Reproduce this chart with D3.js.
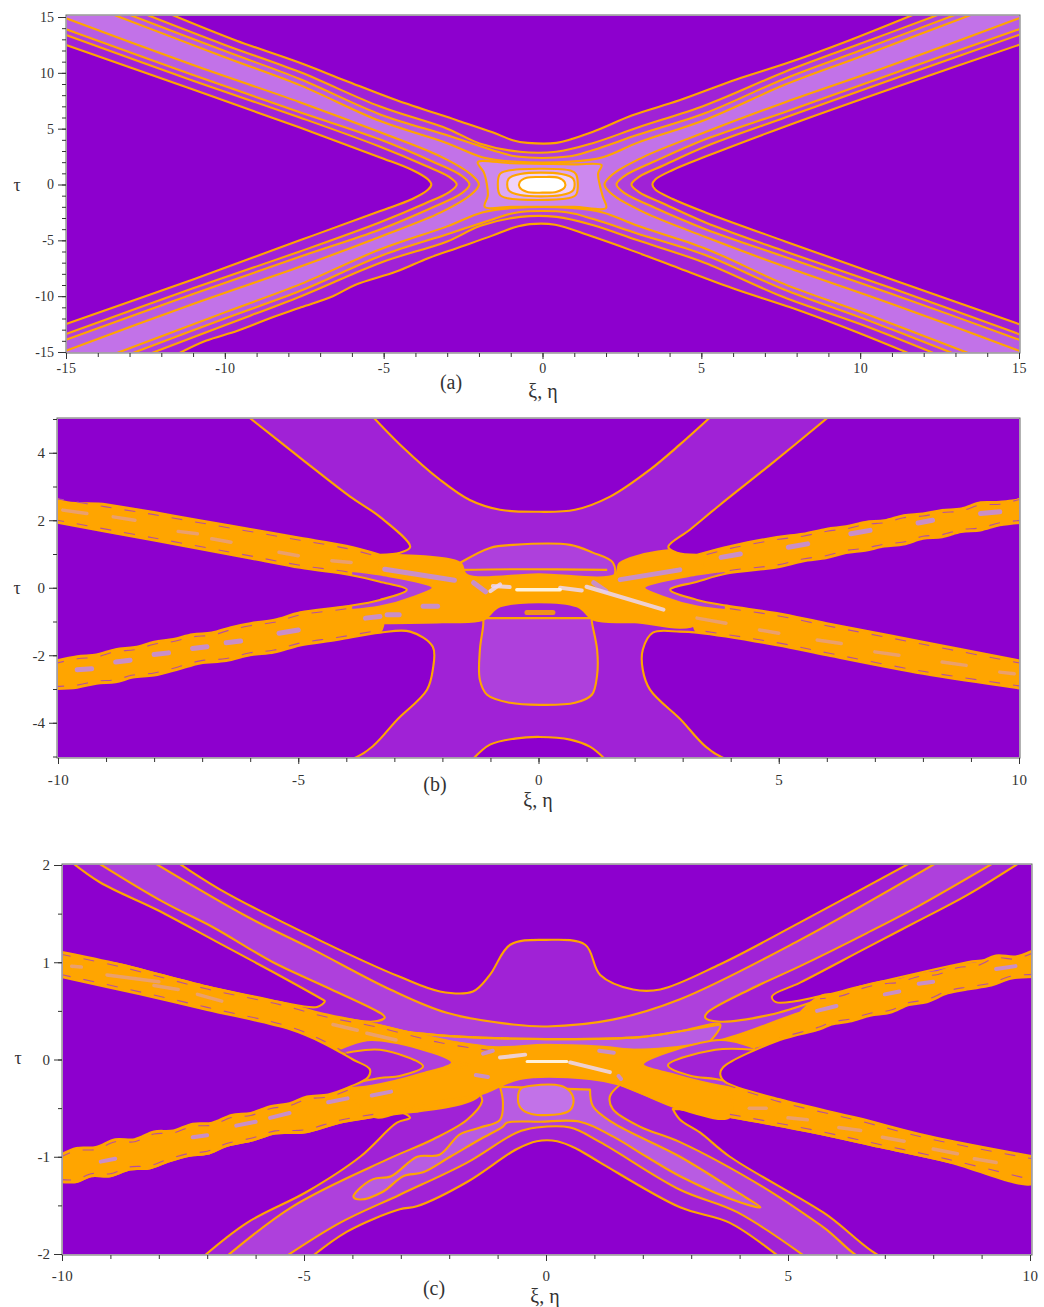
<!DOCTYPE html>
<html>
<head>
<meta charset="utf-8">
<script src="https://cdn.jsdelivr.net/npm/d3@7"></script>
<style>
  html, body { margin: 0; padding: 0; background: #fff; }
  svg { display: block; }
  text { font-family: "Liberation Serif", "Times New Roman", serif; fill: #333; }
</style>
</head>
<body>
<div id="chart"></div>
<script>
const WIDTH = 1044;
const HEIGHT = 1307;

const DARK = '#8d00ce';
const LEVEL1 = '#a024d6';
const LEVEL2 = '#ae40dc';
const LEVEL3 = '#b85ce2';
const LEVEL4 = '#c272e8';
const ORANGE = '#ffa500';
const LAVENDER = '#c08cec';
const PALE = '#ecd8f4';
const PINK = '#e8a080';

const rev = a => [...a].reverse();

/* ---------- panel (a) : contour lines read in data units ---------- */
const aTop1 = [[-11.67,15.2],[-9.65,12.9],[-7.64,10.9],[-6.2,9.3],[-4.59,7.54],[-2.7,5.76],[-1.55,4.65],[-.94,3.97],[-.47,3.73],[.44,3.73],[1.57,4.71],[2.83,6.2],[4.31,7.54],[6.1,9.4],[7.77,10.94],[9.65,12.9],[11.67,15.2]];
const aTop2 = [[-12.46,15.2],[-10,12.5],[-7.64,10.07],[-5.13,7],[-3,5],[-1.98,3.68],[-.72,2.93],[.43,2.93],[1.58,3.7],[3,5.1],[5.13,7.1],[7.64,10.1],[10,12.6],[12.46,15.2]];
const aTop3 = [[-13,15.2],[-10,11.95],[-7.64,9.45],[-5.13,6.3],[-3,4.4],[-1.6,3.1],[-.8,2.5],[.8,2.5],[1.6,3.1],[3,4.45],[5.13,6.4],[7.64,9.5],[10,12],[13,15.2]];
const aTop4 = [[-13.5,15.2],[-10,11.4],[-7.64,8.9],[-5.13,5.7],[-3,3.7],[-1.9,2.45],[-.9,2.05],[.9,2.05],[1.9,2.45],[3,3.75],[5.13,5.8],[7.64,8.95],[10,11.45],[13.5,15.2]];
const aBottom1 = [[-11.5,-15.2],[-10.6,-14],[-9.6,-13.1],[-8.6,-12],[-7.6,-11],[-6.6,-10],[-5.9,-9],[-4.6,-7.8],[-3.6,-6.6],[-2.7,-5.7],[-1.6,-4.6],[-.9,-3.85],[-.4,-3.55],[.4,-3.6],[1.5,-4.6],[2.8,-5.9],[4.3,-7.5],[6.1,-9.4],[7.8,-11],[9.6,-12.9],[11.6,-15.2]];
const aBottom2 = [[-12.4,-15.2],[-10,-12.6],[-7.6,-10],[-5.1,-7],[-3,-5.1],[-1.95,-3.7],[-.7,-2.9],[.45,-2.9],[1.6,-3.65],[3,-5],[5.1,-7],[7.6,-10.1],[10,-12.5],[12.4,-15.2]];
const aBottom3 = [[-13,-15.2],[-10,-12],[-7.6,-9.5],[-5.1,-6.4],[-3,-4.45],[-1.6,-3.15],[-.8,-2.5],[.8,-2.5],[1.6,-3.1],[3,-4.4],[5.1,-6.3],[7.6,-9.4],[10,-11.9],[13,-15.2]];
const aBottom4 = [[-13.5,-15.2],[-10,-11.45],[-7.6,-8.9],[-5.1,-5.8],[-3,-3.75],[-1.9,-2.5],[-.9,-2.1],[.9,-2.1],[1.9,-2.5],[3,-3.7],[5.1,-5.7],[7.6,-8.9],[10,-11.4],[13.5,-15.2]];
const aLeft1 = [[-15.2,12.7],[-11,8.5],[-7.64,5.1],[-5.13,2.45],[-4.1,1.3],[-3.6,.45],[-3.5,0],[-3.6,-.45],[-4.1,-1.3],[-5.13,-2.4],[-7.64,-5],[-11,-8.5],[-15.2,-12.7]];
const aLeft2 = [[-15.2,13.6],[-11,9.3],[-7.64,6],[-5.13,3.4],[-3.7,1.7],[-2.95,.7],[-2.7,0],[-2.95,-.7],[-3.7,-1.7],[-5.13,-3.4],[-7.64,-6],[-11,-9.3],[-15.2,-13.6]];
const aLeft3 = [[-15.2,14.1],[-11,9.8],[-7.64,6.47],[-5.13,4.05],[-3.5,2.1],[-2.55,.8],[-2.3,0],[-2.55,-.8],[-3.5,-2.1],[-5.13,-4.05],[-7.64,-6.47],[-11,-9.8],[-15.2,-14.1]];
const aLeft4 = [[-15.2,15.1],[-11,10.7],[-7.64,7.37],[-5.13,4.7],[-3.2,2.5],[-2.25,.9],[-2,0],[-2.25,-.9],[-3.2,-2.5],[-5.13,-4.7],[-7.64,-7.37],[-11,-10.7],[-15.2,-15.1]];
const aRight1 = [[15.2,12.7],[11,8.6],[7.64,5.2],[5.13,2.5],[4.1,1.3],[3.55,.45],[3.46,0],[3.55,-.45],[4.1,-1.3],[5.13,-2.5],[7.64,-5.1],[11,-8.5],[15.2,-12.7]];
const aRight2 = [[15.2,13.6],[11,9.4],[7.64,6],[5.13,3.4],[3.8,1.7],[3.05,.7],[2.8,0],[3.05,-.7],[3.8,-1.7],[5.13,-3.4],[7.64,-6],[11,-9.3],[15.2,-13.6]];
const aRight3 = [[15.2,14.1],[11,9.9],[7.64,6.5],[5.13,4.05],[3.55,2.1],[2.6,.8],[2.33,0],[2.6,-.8],[3.55,-2.1],[5.13,-4],[7.64,-6.5],[11,-9.8],[15.2,-14.1]];
const aRight4 = [[15.2,15.1],[11,10.7],[7.64,7.37],[5.13,4.7],[3.2,2.5],[2.2,.9],[1.95,0],[2.2,-.9],[3.2,-2.5],[5.13,-4.7],[7.64,-7.37],[11,-10.7],[15.2,-15.1]];
const aStar = [[-2.04,2],[-1,1.9],[0,1.85],[1,1.8],[1.86,1.74],[1.75,1],[1.8,0],[1.9,-1.1],[2,-2.1],[1,-2],[0,-2],[-1,-2],[-1.82,-2],[-1.72,-1],[-1.75,0],[-1.85,1.1]];
const aRing1 = [[-1.35,.9],[-1.1,1.23],[.9,1.23],[1.06,.9],[1.06,-.9],[.8,-1.23],[-1.1,-1.23],[-1.35,-.9]];
const aRing2 = [[-1.07,.5],[-.7,.94],[.6,.94],[.97,.5],[.97,-.5],[.6,-.94],[-.7,-.94],[-1.07,-.5]];
const aRing3 = [[-.72,.2],[-.5,.6],[0,.67],[.5,.6],[.7,.2],[.7,-.25],[.45,-.65],[0,-.73],[-.5,-.65],[-.72,-.25]];

/* ---------- panel (b) ---------- */
const bArmULUpper = [[-10.1,2.73],[-9,2.47],[-8,2.24],[-7.05,2],[-6,1.74],[-4.96,1.48],[-4,1.24],[-3.3,.98]];
const bArmULLower = [[-10.1,1.95],[-8,1.4],[-6,.87],[-4.96,.59],[-3.92,.38],[-3.3,.18]];
const bArmLLUpper = [[-10.1,-2.18],[-9.6,-2.03],[-9.2,-1.98],[-8.8,-1.82],[-8.4,-1.76],[-8,-1.6],[-7.6,-1.52],[-7.2,-1.38],[-6.8,-1.33],[-6.4,-1.17],[-6,-1.05],[-5.5,-.95],[-4.96,-.73],[-4,-.55],[-3.3,-.36]];
const bArmLLLower = [[-10.1,-3],[-9.6,-2.96],[-9.2,-2.84],[-8.8,-2.8],[-8.44,-2.66],[-8,-2.6],[-7.5,-2.42],[-7.04,-2.24],[-6.5,-2.17],[-6,-2],[-5.5,-1.92],[-4.96,-1.71],[-4.2,-1.55],[-3.3,-1.33]];
const bArmURUpper = [[10.1,2.73],[9.6,2.55],[9.2,2.53],[8.8,2.35],[8.4,2.3],[8,2.2],[7.6,2.15],[7.2,2],[6.8,1.95],[6.4,1.82],[6,1.75],[5.5,1.6],[4.96,1.5],[4,1.24],[3.3,.98]];
const bArmURLower = [[10.1,1.93],[9.6,1.85],[9.2,1.7],[8.8,1.65],[8.4,1.5],[8,1.45],[7.6,1.28],[7.2,1.22],[6.8,1.1],[6.4,1.03],[6,.88],[5.5,.78],[4.96,.6],[3.92,.42],[3.3,.18]];
const bArmLRUpper = [[10.1,-2.18],[8,-1.6],[6,-1.05],[4.96,-.75],[3.92,-.53],[3.3,-.36]];
const bArmLRLower = [[10.1,-3],[8,-2.55],[6,-2],[4.96,-1.7],[3.3,-1.33]];
const bCrossing = [[-3.3,.98],[-1.63,.74],[-1.5,.39],[0,.4],[1.6,.39],[1.7,.74],[3.3,.98],[3.3,-1.05],[2,-1.02],[1.15,-.95],[.8,-.55],[-.8,-.55],[-1.15,-.95],[-2,-1.02],[-3.3,-1.05]];
const bDarkTopLeft = [[-6.07,5.1],[-4.96,3.85],[-3.92,2.7],[-3.3,2.1],[-2.67,1.21],[-2.88,1.04],[-3.3,.98]];
const bBowl = [[-3.47,5.1],[-2.88,4.24],[-2.05,3.2],[-1.43,2.6],[-.8,2.31],[0,2.25],[.76,2.31],[1.49,2.7],[2.32,3.5],[2.94,4.24],[3.61,5.1]];
const bDarkTopRight = [[6.07,5.1],[4.82,3.64],[3.78,2.46],[3.15,1.72],[2.7,1.21],[2.88,1.04],[3.3,.98]];
const bApexLeft = [[-2.74,-.06]];
const bApexRight = [[2.74,-.06]];
const bCornerLowLeft = [[-2.67,-1.3],[-2.2,-1.75],[-2.2,-2.43],[-2.32,-3.02],[-2.88,-3.82],[-3.92,-5.1]];
const bCornerLowRight = [[2.94,-1.3],[2.38,-1.33],[2.17,-1.84],[2.17,-2.43],[2.32,-3.02],[2.9,-3.82],[3.94,-5.1]];
const bBottomArch = [[-1.38,-5.1],[-1.01,-4.65],[-.49,-4.47],[.03,-4.42],[.66,-4.5],[1.07,-4.71],[1.4,-5.1]];
const bBox = [[-1.15,-.9],[-1.15,-1.1],[-1.22,-1.84],[-1.22,-2.73],[-1.07,-3.17],[-.59,-3.41],[.03,-3.47],[.76,-3.41],[1.11,-3.17],[1.22,-2.58],[1.22,-1.84],[1.11,-1],[1.11,-.9]];
const bArch = [[-1.63,.74],[-1.01,1.18],[-.53,1.27],[.66,1.27],[1.13,1.04],[1.55,.74],[1.55,.3],[-1.63,.3]];
const bHookLeft = [[-3.9,.5],[-3.3,.39],[-2.2,0],[-2.6,-.27],[-3.3,-.56],[-3.9,-.66]];
const bHookRight = [[3.9,.5],[3.3,.39],[2.2,0],[2.6,-.27],[3.3,-.56],[3.9,-.66]];
const bRowLine = [[-1.63,.53],[-.4,.55],[1.43,.53]];
const bLavenderSpots = [[-3.2,.55,-1.75,.22],[-1.35,.15,-1.1,-.12],[1.7,.24,2.94,.53],[1.15,.15,1.4,-.1],[-2.4,-.55,-2.1,-.55],[-3.15,-.8,-2.9,-.8],
  [-9.6,-2.43,-9.3,-2.4],[-8.8,-2.2,-8.5,-2.15],[-8,-1.98,-7.7,-1.93],[-7.2,-1.8,-6.9,-1.75],[-6.5,-1.63,-6.2,-1.58],[-5.4,-1.35,-5,-1.25],[-3.6,-.9,-3.3,-.85],
  [9.6,2.25,9.2,2.2],[8.2,2,7.9,1.92],[6.9,1.7,6.5,1.6],[5.6,1.3,5.2,1.2],[4.2,1,3.8,.9]];
const bPinkSpots = [[-9.9,2.3,-9.4,2.2],[-8.85,2.1,-8.4,2],[-7.5,1.67,-7.1,1.6],[-6.8,1.45,-6.4,1.35],[-5.4,1.05,-5,.95],[-4.3,.8,-3.9,.75],
  [3.3,-.9,3.9,-1.05],[4.6,-1.25,5,-1.35],[5.8,-1.55,6.3,-1.65],[7,-1.9,7.5,-2],[8.4,-2.2,8.9,-2.3],[9.6,-2.5,9.9,-2.55]];
const bPaleSpots = [[1,.03,2.6,-.65],[-.95,.05,-.6,.02],[.45,0,.9,-.08],[-1,-.1,-.8,.1]];
const bWhiteSpots = [[-.45,-.06,.45,-.06]];
const bDash = [[-.24,-.73,.3,-.73]];

/* ---------- panel (c) ---------- */
const cDarkUpperLeft = [[-9.88,2.06],[-9.21,1.82],[-8.04,1.54],[-6.8,1.21],[-5.64,.9],[-4.63,.62],[-4.57,.6],[-4.73,.54],[-5.5,.59],[-7,.75],[-8.8,.98],[-10.04,1.11],[-10.04,2.06]];
const cWedgeUpperLeft = [[-9.38,2.06],[-7.91,1.62],[-6.88,1.36],[-5.64,1],[-4.52,.74],[-3.37,.46],[-3.33,.43],[-3.57,.39],[-4.61,.46],[-7,.75],[-10.04,1.11],[-10.04,2.06]];
const cDarkUpperRight = [[9.9,2.06],[8.7,1.69],[7.67,1.42],[6.63,1.15],[5.25,.79],[4.67,.65],[4.75,.59],[5.66,.65],[6.49,.75],[8.7,1],[10.1,1.13],[10.1,2.06]];
const cWedgeUpperRight = [[9.38,2.06],[7.67,1.57],[6.63,1.3],[5.25,.96],[4.21,.72],[3.33,.48],[3.29,.43],[3.55,.39],[4.63,.46],[6.49,.75],[8.7,1],[10.1,1.13],[10.1,2.06]];
const cBowl = [[-8.22,2.06],[-6.18,1.47],[-4.81,1.13],[-3.22,.72],[-2.05,.48],[-.68,.36],[.02,.34],[1.38,.41],[2.77,.62],[5.25,1.23],[8.2,2.06]];
const cDome = [[-7.71,2.06],[-6.74,1.75],[-4.61,1.21],[-3.02,.85],[-2.19,.7],[-1.51,.7],[-1.16,.87],[-.74,1.18],[0,1.23],[.81,1.18],[1.12,.87],[1.8,.72],[2.36,.72],[3.6,.98],[5.25,1.41],[7.67,2.06]];
const cInnerBowl = [[-3.33,.31],[-1.98,.24],[0,.21],[1.94,.23],[2.77,.29],[3.6,.36]];
const cInnerBand = [[-3.33,.31],[-1.98,.24],[0,.21],[1.94,.23],[2.77,.29],[3.6,.36],[3.2,.12],[1.9,.1],[0,.1],[-1.9,.1],[-3.2,.15]];
const cArmULUpper = [[-10.04,1.11],[-8.8,.98],[-7,.75],[-5.5,.59],[-4.6,.47],[-3.5,.36],[-2.2,.2],[-1.2,.12]];
const cArmULLower = [[-10.04,.85],[-8.39,.67],[-7,.51],[-5.29,.31],[-4.61,.17],[-3.99,0]];
const cArmLLUpper = [[-10.04,-.98],[-9.7,-.91],[-9.3,-.9],[-8.9,-.82],[-8.5,-.82],[-8.1,-.74],[-7.7,-.73],[-7.3,-.66],[-6.9,-.65],[-6.5,-.57],[-6.1,-.55],[-5.7,-.48],[-5.3,-.45],[-4.94,-.38],[-4.5,-.36],[-4.05,-.28]];
const cArmLLLower = [[-10.04,-1.26],[-9.7,-1.26],[-9.4,-1.2],[-9,-1.2],[-8.6,-1.13],[-8.2,-1.12],[-7.8,-1.05],[-7.36,-.99],[-7,-.97],[-6.6,-.89],[-6.05,-.83],[-5.6,-.76],[-5,-.75],[-4.26,-.65],[-3.57,-.59]];
const cArmURUpper = [[10.1,1.13],[9.7,1.06],[9.3,1.07],[8.9,.99],[8.5,.97],[8.1,.9],[7.7,.88],[7.31,.82],[6.9,.8],[6.49,.75],[6.1,.68],[5.66,.65]];
const cArmURLower = [[10.1,.85],[9.6,.83],[9.2,.76],[8.7,.72],[8.3,.68],[7.87,.59],[7.5,.56],[7.11,.48],[6.7,.45],[6.28,.39],[5.9,.36],[5.66,.31],[4.83,.2]];
const cArmLRUpper = [[3.7,-.23],[4.83,-.41],[6.43,-.6],[7.93,-.79],[10.1,-1]];
const cArmLRLower = [[3.8,-.59],[5.52,-.75],[6.9,-.9],[8.29,-1.05],[10.1,-1.27]];
const cCrossing = [[-3.5,.36],[-1.22,.13],[0,.15],[1.18,.13],[1.94,.1],[3.6,.2],[5.66,.5],[5.66,.31],[4.83,.2],[3.6,.03],[2.77,-.08],[3.7,-.23],[3.8,-.59],[2.77,-.51],[1.53,-.26],[.9,-.2],[-.54,-.2],[-1.36,-.36],[-2.6,-.46],[-3.57,-.59],[-4.05,-.28],[-3.02,-.185],[-1.57,-.05],[-3.99,0]];
const cLineA = [[-1.36,-.36],[-1.32,-.43],[-1.63,-.62],[-2.33,-.82],[-3.29,-1.03],[-5.23,-1.51],[-6.78,-2.1]];
const cLineB = [[-3.02,-.54],[-2.81,-.6],[-3.08,-.65],[-3.84,-1],[-4.94,-1.36],[-6.18,-1.68],[-7.25,-2.1]];
const cLineARight = [[1.53,-.26],[1.32,-.38],[1.38,-.51],[1.94,-.69],[2.77,-.85],[4.48,-1.31],[5.72,-1.72],[6.76,-2.1]];
const cLineBRight = [[2.62,-.51],[2.77,-.62],[3.18,-.75],[3.8,-1],[5.72,-1.57],[7.25,-2.1]];
const cArchC = [[-5.6,-2.1],[-4.26,-1.68],[-3.02,-1.39],[-1.63,-1.06],[-.6,-.75],[-.19,-.7],[.5,-.7],[1.12,-.85],[2.77,-1.34],[3.95,-1.57],[5.56,-2.1]];
const cArchD = [[-5.02,-2.1],[-4.11,-1.77],[-3.02,-1.54],[-2.67,-1.51],[-1.63,-1.26],[-.6,-.92],[-.19,-.84],[.23,-.84],[.64,-.92],[1.12,-1.06],[2.77,-1.52],[3.8,-1.68],[5,-2.1]];
const cCoreLower = [[.91,-.31],[.97,-.48],[1.38,-.65],[2.77,-1],[3.97,-1.37],[4.43,-1.52],[4.02,-1.47],[2.77,-1.2],[2.08,-1],[1.38,-.79],[.7,-.64],[-.12,-.64],[-.81,-.65],[-.89,-.69],[-1.36,-.82],[-1.98,-1],[-2.54,-1.16],[-2.95,-1.2],[-3.37,-1.36],[-3.84,-1.44],[-3.98,-1.41],[-3.88,-1.34],[-3.57,-1.23],[-3.2,-1.2],[-2.66,-1],[-2.2,-.98],[-1.78,-.77],[-1.36,-.7],[-.95,-.62],[-.89,-.44],[-.95,-.28]];
const cOval = [[-.3,-.27],[.3,-.27],[.5,-.33],[.57,-.42],[.5,-.52],[.3,-.56],[-.3,-.56],[-.52,-.5],[-.58,-.4],[-.52,-.3]];
const cHook2Left = [[-4.3,.1],[-3.6,.2],[-1.94,-.03],[-2.6,-.15],[-3.6,-.27],[-4.3,-.3]];
const cHook1Left = [[-4.3,.05],[-3.43,.1],[-2.54,-.07],[-3.02,-.17],[-3.43,-.19],[-4.3,-.28]];
const cHook2Right = [[4.3,.12],[3.6,.2],[2,-.05],[2.6,-.15],[3.6,-.27],[4.3,-.3]];
const cHook1Right = [[4.3,.1],[3.5,.1],[2.52,-.06],[3,-.17],[3.5,-.2],[4.3,-.28]];
const cApexLeft = [[-3.64,-.1],[-3.68,-.185]];
const cApexRight = [[3.66,-.08],[3.6,-.15]];
const cLavenderSpots = [[-1.3,.06,-1.1,.09],[1.1,.09,1.4,.07],[-1.45,-.16,-1.2,-.18],[1.5,-.17,1.55,-.2],
  [-9.2,-1.05,-8.9,-1.02],[-7.3,-.8,-7,-.78],[-6.4,-.68,-6,-.64],[-5.7,-.6,-5.3,-.55],[-4.5,-.44,-4.1,-.4],[-3.6,-.37,-3.2,-.33],
  [7,.67,7.3,.7],[5.6,.5,6,.55],[7.7,.78,8,.8],[9.3,.93,9.7,.96]];
const cPinkSpots = [[-9.8,.96,-9.6,.95],[-9.07,.87,-8,.8],[-8.1,.76,-7.6,.72],[-7.2,.67,-6.7,.6],[-4.4,.36,-3.9,.3],[-3.7,.27,-3.1,.2],
  [4.2,-.5,4.55,-.5],[5,-.6,5.4,-.62],[6.05,-.7,6.5,-.73],[6.95,-.8,7.4,-.84],[8,-.92,8.5,-.97],[8.85,-1.02,9.3,-1.06]];
const cPaleSpots = [[-.95,.02,-.43,.05],[.5,-.03,1.32,-.13]];
const cWhiteSpots = [[-.39,-.02,.43,-.02]];
const cBlob = [[-2.72,-.52,-2.66,-.52]];

/* ---------- axis tick values ---------- */
const aMajorX = [-15, -10, -5, 0, 5, 10, 15];
const aMajorY = [-15, -10, -5, 0, 5, 10, 15];
const bMajorX = [-10, -5, 0, 5, 10];
const bMajorY = [-4, -2, 0, 2, 4];
const cMajorX = [-10, -5, 0, 5, 10];
const cMajorY = [-2, -1, 0, 1, 2];

const panels = [
  {
    id: 'a', frame: { x: 66, y: 15, w: 954, h: 338 },
    xDomain: [-15, 15], xRange: [66, 1019], yDomain: [-15, 15], yRange: [352, 17],
    majorX: aMajorX, majorY: aMajorY, minorXStep: 1, minorYStep: 1, tickFont: 14, xPad: 4,
    tag: { text: '(a)', x: 451, y: 389 }, xLabel: { x: 543, y: 398 }, yLabel: { x: 17, y: 191 }
  },
  {
    id: 'b', frame: { x: 57, y: 418, w: 963, h: 340 },
    xDomain: [-10, 10], xRange: [58, 1019], yDomain: [-5, 5], yRange: [756.5, 419],
    majorX: bMajorX, majorY: bMajorY, minorXStep: 1, minorYStep: 1, tickFont: 15, xPad: 10,
    tag: { text: '(b)', x: 435, y: 791 }, xLabel: { x: 538, y: 807 }, yLabel: { x: 17, y: 594 }
  },
  {
    id: 'c', frame: { x: 62, y: 864, w: 970, h: 391 },
    xDomain: [-10, 10], xRange: [62, 1030], yDomain: [-2, 2], yRange: [1254, 865],
    majorX: cMajorX, majorY: cMajorY, minorXStep: 1, minorYStep: 0.5, tickFont: 15, xPad: 9,
    tag: { text: '(c)', x: 434, y: 1295 }, xLabel: { x: 545, y: 1303 }, yLabel: { x: 18, y: 1064 }
  }
];

const region = (points, fill, round) => ({ points, fill, round });

const layers = {
  a: {
    base: LEVEL4,
    regions: [
      region(aTop4, LEVEL3), region(aBottom4, LEVEL3), region(aLeft4, LEVEL3), region(aRight4, LEVEL3),
      region(aTop3, LEVEL2), region(aBottom3, LEVEL2), region(aLeft3, LEVEL2), region(aRight3, LEVEL2),
      region(aTop2, LEVEL1), region(aBottom2, LEVEL1), region(aLeft2, LEVEL1), region(aRight2, LEVEL1),
      region(aTop1, DARK), region(aBottom1, DARK), region(aLeft1, DARK), region(aRight1, DARK),
      region(aStar, '#cc88ee', true), region(aRing1, '#dca8f4', true), region(aRing2, '#f0d4fa', true), region(aRing3, '#ffffff', true)
    ],
    lines: [], upperEdges: [], lowerEdges: [], spots: []
  },
  b: {
    base: LEVEL1,
    regions: [
      region(bArch, LEVEL2),
      region(bBox, LEVEL2),
      region([...bArmULUpper, ...rev(bArmULLower)], ORANGE),
      region([...bArmLLUpper, ...rev(bArmLLLower)], ORANGE),
      region([...bArmURUpper, ...rev(bArmURLower)], ORANGE),
      region([...bArmLRUpper, ...rev(bArmLRLower)], ORANGE),
      region(bCrossing, ORANGE),
      region(bHookLeft, LEVEL2),
      region(bHookRight, LEVEL2),
      region([...bDarkTopLeft, ...rev(bArmULUpper), [-10.1, 5.1]], DARK),
      region(bBowl, DARK),
      region([...bDarkTopRight, ...rev(bArmURUpper), [10.1, 5.1]], DARK),
      region([...bArmULLower, ...bApexLeft, ...rev(bArmLLUpper)], DARK),
      region([...bArmURLower, ...bApexRight, ...rev(bArmLRUpper)], DARK),
      region([...bArmLLLower, ...bCornerLowLeft, [-10.1, -5.1]], DARK),
      region([...bArmLRLower, ...bCornerLowRight, [10.1, -5.1]], DARK),
      region(bBottomArch, DARK)
    ],
    lines: [bRowLine],
    upperEdges: [bArmULUpper, bArmLLUpper, bArmURUpper, bArmLRUpper],
    lowerEdges: [bArmULLower, bArmLLLower, bArmURLower, bArmLRLower],
    spots: [
      { data: bLavenderSpots, color: LAVENDER, width: 5 },
      { data: bPinkSpots, color: PINK, width: 3.5 },
      { data: bPaleSpots, color: PALE, width: 4 },
      { data: bWhiteSpots, color: '#ffffff', width: 3.5 },
      { data: bDash, color: ORANGE, width: 5 }
    ]
  },
  c: {
    base: LEVEL2,
    regions: [
      region(cBowl, LEVEL1),
      region(cDome, DARK),
      region(cWedgeUpperLeft, LEVEL1),
      region(cDarkUpperLeft, DARK),
      region(cWedgeUpperRight, LEVEL1),
      region(cDarkUpperRight, DARK),
      region(cInnerBand, LEVEL3),
      region([[-10.04, -2.1], ...cArmLLLower, [-1.36, -.36], ...cLineA], LEVEL1),
      region([...cLineARight, [10.1, -2.1], ...rev(cArmLRLower), [2.77, -.51]], LEVEL1),
      region(cArchC, LEVEL1),
      region(cArchD, DARK),
      region(cCoreLower, LEVEL3),
      region(cOval, LEVEL4, true),
      region([[-10.04, -2.1], ...cArmLLLower, ...cLineB], DARK),
      region([...cLineBRight, [10.1, -2.1], ...rev(cArmLRLower), [2.77, -.51]], DARK),
      region([...cArmULUpper, ...rev(cArmULLower)], ORANGE),
      region([...cArmLLUpper, [-3.02, -.185], [-1.36, -.02], [-1.36, -.36], ...rev(cArmLLLower)], ORANGE),
      region([...cArmURUpper, ...rev(cArmURLower)], ORANGE),
      region([...cArmLRUpper, ...rev(cArmLRLower)], ORANGE),
      region(cCrossing, ORANGE),
      region(cHook2Left, LEVEL2),
      region(cHook1Left, LEVEL1),
      region(cHook2Right, LEVEL2),
      region(cHook1Right, LEVEL1),
      region([...cArmULLower, ...cApexLeft, ...rev(cArmLLUpper)], DARK),
      region([...cArmURLower, ...cApexRight, ...cArmLRUpper, [10.1, -1], [10.1, .85]], DARK)
    ],
    lines: [cInnerBowl],
    upperEdges: [cArmULUpper, cArmLLUpper, cArmURUpper, cArmLRUpper],
    lowerEdges: [cArmULLower, cArmLLLower, cArmURLower, cArmLRLower],
    spots: [
      { data: cLavenderSpots, color: LAVENDER, width: 4 },
      { data: cPinkSpots, color: PINK, width: 3.5 },
      { data: cPaleSpots, color: PALE, width: 4 },
      { data: cWhiteSpots, color: '#ffffff', width: 3 },
      { data: cBlob, color: ORANGE, width: 5 }
    ]
  }
};

const svg = d3.select('#chart').append('svg')
  .attr('width', WIDTH)
  .attr('height', HEIGHT);

const defs = svg.append('defs');
defs.append('filter').attr('id', 'soft')
  .attr('filterUnits', 'userSpaceOnUse')
  .attr('x', 0).attr('y', 0).attr('width', WIDTH).attr('height', HEIGHT)
  .append('feGaussianBlur').attr('stdDeviation', 0.5);

const drawPanel = panel => {
  const x = d3.scaleLinear().domain(panel.xDomain).range(panel.xRange);
  const y = d3.scaleLinear().domain(panel.yDomain).range(panel.yRange);
  const layer = layers[panel.id];
  const f = panel.frame;
  const line = d3.line().x(d => x(d[0])).y(d => y(d[1])).curve(d3.curveCatmullRom.alpha(0.5));
  const loop = d3.line().x(d => x(d[0])).y(d => y(d[1])).curve(d3.curveCatmullRomClosed.alpha(0.5));

  defs.append('clipPath').attr('id', `clip-${panel.id}`)
    .append('rect')
    .attr('x', f.x + 1).attr('y', f.y + 1)
    .attr('width', f.w - 2).attr('height', f.h - 2);

  const g = svg.append('g').attr('class', `panel-${panel.id}`);

  g.append('rect')
    .attr('x', f.x).attr('y', f.y)
    .attr('width', f.w).attr('height', f.h)
    .attr('fill', '#e6d2ee');

  const plot = g.append('g')
    .attr('clip-path', `url(#clip-${panel.id})`)
    .append('g')
    .attr('filter', 'url(#soft)');

  plot.append('rect')
    .attr('x', f.x).attr('y', f.y)
    .attr('width', f.w).attr('height', f.h)
    .attr('fill', layer.base);

  plot.selectAll('path.region').data(layer.regions).join('path')
    .attr('class', 'region')
    .attr('d', d => d.round ? loop(d.points) : line(d.points) + 'Z')
    .attr('fill', d => d.fill)
    .attr('stroke', ORANGE)
    .attr('stroke-width', 2.1)
    .attr('stroke-linejoin', 'round');

  plot.selectAll('path.contour').data(layer.lines).join('path')
    .attr('class', 'contour')
    .attr('d', line)
    .attr('fill', 'none')
    .attr('stroke', ORANGE)
    .attr('stroke-width', 2.1);

  // thin broken purple lines just inside the edges of the orange arms
  const edgeDash = (edges, shift) => {
    plot.append('g').attr('transform', `translate(0, ${shift})`)
      .selectAll('path').data(edges).join('path')
      .attr('d', line)
      .attr('fill', 'none')
      .attr('stroke', '#b8509c')
      .attr('stroke-width', 1.1)
      .attr('stroke-dasharray', '11 13');
  };
  edgeDash(layer.upperEdges, 2.5);
  edgeDash(layer.lowerEdges, -2.5);

  layer.spots.forEach(group => {
    plot.append('g').selectAll('line').data(group.data).join('line')
      .attr('x1', d => x(d[0])).attr('y1', d => y(d[1]))
      .attr('x2', d => x(d[2])).attr('y2', d => y(d[3]))
      .attr('stroke', group.color)
      .attr('stroke-width', group.width)
      .attr('stroke-linecap', 'round')
      .attr('opacity', 0.85);
  });

  g.append('rect')
    .attr('x', f.x).attr('y', f.y)
    .attr('width', f.w).attr('height', f.h)
    .attr('fill', 'none')
    .attr('stroke', '#666')
    .attr('stroke-width', 1);

  const hyphen = d => `${d}`.replace('\u2212', '-');

  // minor ticks first, the labelled ones go over them
  const minorX = d3.range(panel.xDomain[0], panel.xDomain[1] + 0.001, panel.minorXStep);
  const minorY = d3.range(panel.yDomain[0], panel.yDomain[1] + 0.001, panel.minorYStep);

  const axisBottomY = f.y + f.h;
  g.append('g').attr('transform', `translate(0, ${axisBottomY})`)
    .call(d3.axisBottom(x).tickValues(minorX).tickSize(4).tickFormat(''))
    .call(s => s.select('.domain').remove())
    .call(s => s.selectAll('line').attr('stroke', '#333'));
  g.append('g').attr('transform', `translate(0, ${axisBottomY})`)
    .call(d3.axisBottom(x).tickValues(panel.majorX).tickSize(6).tickPadding(panel.xPad).tickFormat(hyphen))
    .call(s => s.select('.domain').remove())
    .call(s => s.selectAll('line').attr('stroke', '#333'))
    .call(s => s.selectAll('text').attr('font-size', panel.tickFont).style('letter-spacing', '0.5px')
      .style('font-family', '"Liberation Serif", serif').attr('fill', '#333'));

  g.append('g').attr('transform', `translate(${f.x}, 0)`)
    .call(d3.axisLeft(y).tickValues(minorY).tickSize(4).tickFormat(''))
    .call(s => s.select('.domain').remove())
    .call(s => s.selectAll('line').attr('stroke', '#333'));
  g.append('g').attr('transform', `translate(${f.x}, 0)`)
    .call(d3.axisLeft(y).tickValues(panel.majorY).tickSize(8).tickPadding(4).tickFormat(hyphen))
    .call(s => s.select('.domain').remove())
    .call(s => s.selectAll('line').attr('stroke', '#333'))
    .call(s => s.selectAll('text').attr('font-size', panel.tickFont)
      .style('font-family', '"Liberation Serif", serif').attr('fill', '#333'));

  g.append('text')
    .attr('x', panel.tag.x).attr('y', panel.tag.y)
    .attr('text-anchor', 'middle')
    .attr('font-size', 20).attr('fill', '#222')
    .text(panel.tag.text);

  g.append('text')
    .attr('x', panel.xLabel.x).attr('y', panel.xLabel.y)
    .attr('text-anchor', 'middle')
    .attr('font-size', 20).attr('fill', '#333')
    .text('ξ, η');

  g.append('text')
    .attr('x', panel.yLabel.x).attr('y', panel.yLabel.y)
    .attr('text-anchor', 'middle')
    .attr('font-size', 18).attr('fill', '#333')
    .text('τ');
};

panels.forEach(drawPanel);
</script>
</body>
</html>
